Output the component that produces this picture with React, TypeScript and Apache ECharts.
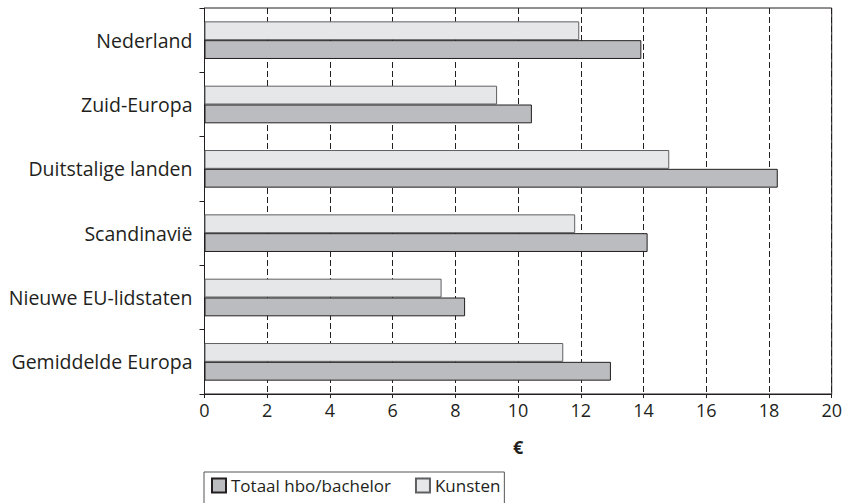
import React, { useEffect, useRef } from "react";
import * as echarts from "echarts";

const categories = [
  "Nederland",
  "Zuid-Europa",
  "Duitstalige landen",
  "Scandinavië",
  "Nieuwe EU-lidstaten",
  "Gemiddelde Europa",
];
const totaal = [13.93, 10.44, 18.28, 14.13, 8.31, 12.96];
const kunsten = [11.95, 9.33, 14.82, 11.82, 7.56, 11.44];
const seriesNames = ["Totaal hbo/bachelor", "Kunsten"];
const axisName = "€";

const INK = "#231f20";
const FONT = "'Open Sans', sans-serif";

export default function App() {
  const ref = useRef<HTMLDivElement>(null);
  useEffect(() => {
    if (!ref.current) return;
    const chart = echarts.init(ref.current, undefined, { renderer: "svg" });
    chart.setOption({
      animation: false,
      backgroundColor: "#ffffff",
      textStyle: { fontFamily: FONT, color: INK },
      grid: {
        left: 204.5,
        right: 11,
        top: 8,
        bottom: 109,
        show: true,
        borderColor: INK,
        borderWidth: 1,
        backgroundColor: "transparent",
      },
      legend: {
        data: seriesNames,
        left: 204,
        top: 472,
        orient: "horizontal",
        itemWidth: 14,
        itemHeight: 14,
        itemGap: 24,
        padding: [5, 4, 12, 7],
        borderColor: "#555",
        borderWidth: 1,
        icon: "rect",
        textStyle: { fontFamily: FONT, fontSize: 17, color: INK },
      },
      xAxis: {
        type: "value",
        min: 0,
        max: 20,
        interval: 2,
        name: axisName,
        nameLocation: "middle",
        nameGap: 44,
        nameTextStyle: { fontFamily: FONT, fontSize: 18, fontWeight: "bold", color: INK },
        axisLine: { show: true, lineStyle: { color: INK, width: 1 } },
        axisTick: { show: true, length: 4, lineStyle: { color: INK } },
        axisLabel: { fontFamily: FONT, fontSize: 18, color: INK, margin: 7 },
        splitLine: { show: true, lineStyle: { color: INK, type: [6, 3], width: 1 } },
      },
      yAxis: {
        type: "category",
        inverse: true,
        data: categories,
        axisLine: { show: true, lineStyle: { color: INK, width: 1 } },
        axisTick: { show: true, length: 5, lineStyle: { color: INK } },
        axisLabel: { fontFamily: FONT, fontSize: 19.5, color: INK, margin: 12 },
        splitLine: { show: false },
      },
      series: [
        {
          name: seriesNames[1],
          type: "bar",
          data: kunsten,
          barGap: "0%",
          barCategoryGap: "41.5%",
          z: 2,
          itemStyle: { color: "#e6e7e8", borderColor: "#5f6062", borderWidth: 1 },
        },
        {
          name: seriesNames[0],
          type: "bar",
          data: totaal,
          barGap: "0%",
          barCategoryGap: "41.5%",
          z: 3,
          itemStyle: { color: "#bbbcbf", borderColor: INK, borderWidth: 1 },
        },
      ],
    });
    return () => chart.dispose();
  }, []);
  return <div ref={ref} style={{ width: 845, height: 503, position: "absolute", left: 0, top: 0 }} />;
}
